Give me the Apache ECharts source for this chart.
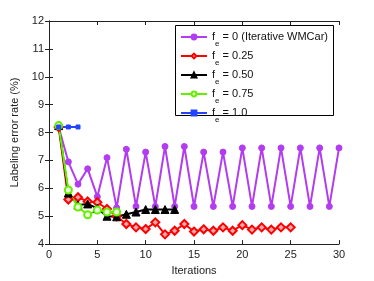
<!DOCTYPE html>
<html><head><meta charset="utf-8">
<script src="https://cdn.jsdelivr.net/npm/echarts@6/dist/echarts.min.js"></script>
<style>html,body{margin:0;padding:0;background:#fff}#c{width:374px;height:281px}</style>
</head><body><div id="c"></div>
<script>
var xTicks = [0, 5, 10, 15, 20, 25, 30];
var yTicks = [4, 5, 6, 7, 8, 9, 10, 11, 12];
var seriesNames = ['fe = 0 (Iterative WMCar)', 'fe = 0.25', 'fe = 0.50', 'fe = 0.75', 'fe = 1.0'];
var legendLabels = ['f{s|e} = 0 (Iterative WMCar)', 'f{s|e} = 0.25', 'f{s|e} = 0.50', 'f{s|e} = 0.75', 'f{s|e} = 1.0'];
var fe0 = [8.2, 6.95, 6.15, 6.7, 5.7, 7.1, 5.3, 7.4, 5.35, 7.3, 5.35, 7.5, 5.35, 7.5, 5.35, 7.3, 5.35, 7.3, 5.35, 7.45, 5.35, 7.45, 5.35, 7.45, 5.35, 7.45, 5.35, 7.45, 5.35, 7.45];
var fe025 = [8.2, 5.6, 5.68, 5.53, 5.5, 5.26, 5.0, 4.72, 4.6, 4.54, 4.78, 4.35, 4.48, 4.72, 4.45, 4.53, 4.48, 4.6, 4.48, 4.68, 4.52, 4.6, 4.52, 4.6, 4.6];
var fe050 = [8.25, 5.83, 5.4, 5.44, 5.28, 5.0, 4.98, 5.07, 5.15, 5.24, 5.24, 5.24, 5.24];
var fe075 = [8.25, 5.94, 5.33, 5.05, 5.22, 5.15, 5.15];
var fe100 = [8.2, 8.2, 8.2];

function pts(arr) { return arr.map(function (v, i) { return [i + 1, v]; }); }

var colors = ['#b23cf0', '#ff0000', '#000000', '#66ee00', '#2244ff'];
var FONT = 'Liberation Sans';

var chart = echarts.init(document.getElementById('c'), null, {renderer: 'canvas'});
var axCommon = {
  axisLine: {show: true, lineStyle: {color: '#222', width: 1}},
  axisTick: {show: true, inside: true, length: 4, lineStyle: {color: '#222'}},
  splitLine: {show: false}
};
function mk(name, data, color, symbol, size, fill, bw) {
  return {
    name: name, type: 'line', data: pts(data), symbol: symbol, symbolSize: size,
    showAllSymbol: true,
    lineStyle: {color: color, width: 2},
    itemStyle: {color: fill, borderColor: color, borderWidth: bw},
    emphasis: {disabled: true}, animation: false, z: 3
  };
}
chart.setOption({
  animation: false,
  grid: {left: 49, right: 35, top: 21, bottom: 33},
  graphic: [{
    type: 'rect', left: 175, top: 25, z: 3.5, silent: true,
    shape: {width: 158, height: 90},
    style: {fill: '#fff', stroke: '#000', lineWidth: 1}
  }],
  xAxis: [
    Object.assign({type: 'value', min: 0, max: 30, interval: 5, position: 'bottom',
      name: 'Iterations', nameLocation: 'middle', nameGap: 18,
      nameTextStyle: {fontFamily: FONT, fontSize: 11, color: '#222'},
      axisLabel: {fontFamily: FONT, fontSize: 11, color: '#222', margin: 5}}, axCommon),
    Object.assign({type: 'value', min: 0, max: 30, interval: 5, position: 'top',
      axisLabel: {show: false}}, axCommon)
  ],
  yAxis: [
    Object.assign({type: 'value', min: 4, max: 12, interval: 1, position: 'left',
      name: 'Labeling error rate (%)', nameLocation: 'middle', nameGap: 23,
      nameTextStyle: {fontFamily: FONT, fontSize: 11, color: '#222'},
      axisLabel: {fontFamily: FONT, fontSize: 11, color: '#222', margin: 5}}, axCommon),
    Object.assign({type: 'value', min: 4, max: 12, interval: 1, position: 'right',
      axisLabel: {show: false}}, axCommon)
  ],
  legend: {
    data: seriesNames, z: 4,
    left: 175, top: 25, width: 158,
    orient: 'vertical',
    padding: [1, 6, 0, 5], itemGap: -3, itemWidth: 26, itemHeight: 6,
    formatter: function (n) { return legendLabels[seriesNames.indexOf(n)]; },
    textStyle: {fontFamily: FONT, fontSize: 11, color: '#111', lineHeight: 22,
      rich: {s: {fontFamily: FONT, fontSize: 8, lineHeight: 8, verticalAlign: 'bottom', color: '#111'}}},
    selectedMode: false
  },
  series: [
    mk(seriesNames[0], fe0, colors[0], 'circle', 6, colors[0], 1),
    mk(seriesNames[1], fe025, colors[1], 'diamond', 8, '#ffaaaa', 2),
    mk(seriesNames[2], fe050, colors[2], 'triangle', 8, colors[2], 1),
    mk(seriesNames[3], fe075, colors[3], 'circle', 7, '#e8ffe0', 2),
    mk(seriesNames[4], fe100, colors[4], 'rect', 4, colors[4], 1)
  ]
});
</script></body></html>
